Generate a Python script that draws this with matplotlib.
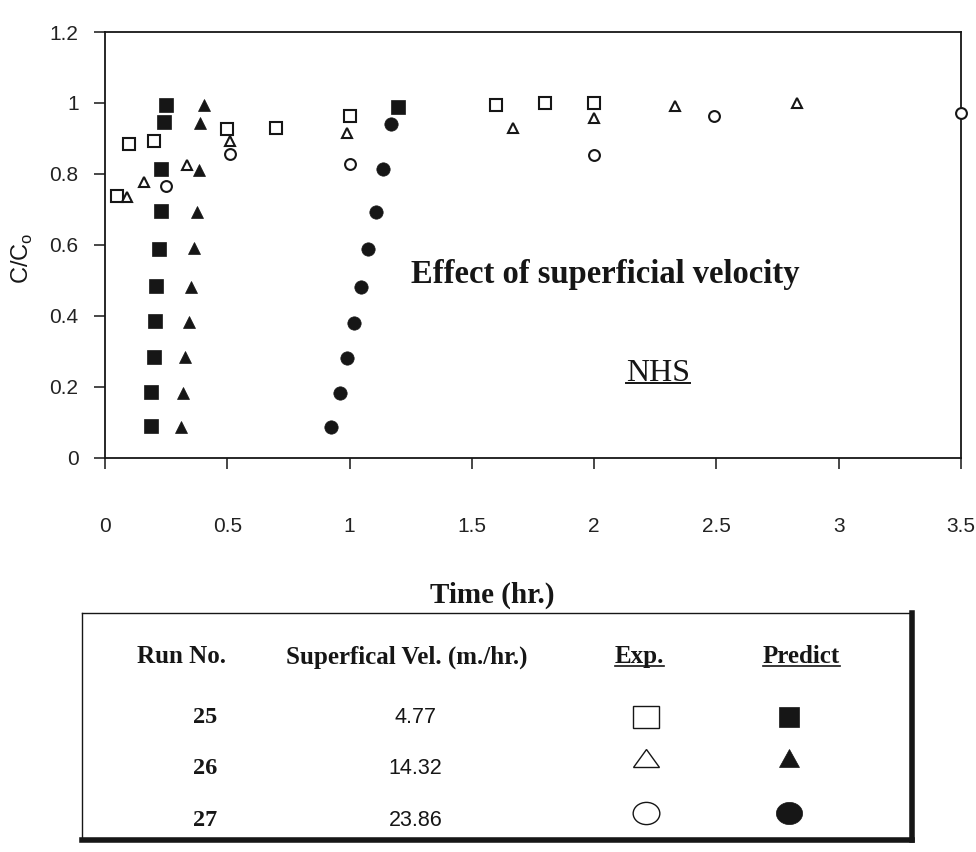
import numpy as np
import matplotlib
matplotlib.use('Agg')
import matplotlib.pyplot as plt
from matplotlib.lines import Line2D
from matplotlib.markers import MarkerStyle
from matplotlib.ticker import FuncFormatter
from matplotlib.transforms import Affine2D


# breakthrough curves, C/Co against time (hr.)
# run 25 (4.77 m/hr)
exp25_t = [0.05, 0.10, 0.20, 0.50, 0.70, 1.00, 1.60, 1.80, 2.00]
exp25_c = [0.738, 0.884, 0.894, 0.926, 0.929, 0.962, 0.995, 1.0, 1.0]
pred25_t = [0.19, 0.19, 0.20, 0.205, 0.21, 0.22, 0.23, 0.23, 0.24, 0.25, 1.20]
pred25_c = [0.09, 0.185, 0.284, 0.385, 0.483, 0.587, 0.694, 0.815, 0.945, 0.993, 0.989]

# run 26 (14.32 m/hr)
exp26_t = [0.09, 0.16, 0.335, 0.51, 0.99, 1.67, 2.00, 2.33, 2.83]
exp26_c = [0.734, 0.777, 0.826, 0.894, 0.915, 0.929, 0.957, 0.992, 0.999]
pred26_t = [0.309, 0.32, 0.329, 0.342, 0.352, 0.362, 0.378, 0.385, 0.39, 0.404]
pred26_c = [0.086, 0.181, 0.283, 0.383, 0.482, 0.59, 0.693, 0.811, 0.944, 0.994]

# run 27 (23.86 m/hr)
exp27_t = [0.25, 0.51, 1.00, 2.00, 2.49, 3.50]
exp27_c = [0.766, 0.857, 0.829, 0.854, 0.963, 0.972]
pred27_t = [0.926, 0.96, 0.988, 1.017, 1.045, 1.074, 1.107, 1.138, 1.168]
pred27_c = [0.087, 0.182, 0.28, 0.379, 0.481, 0.588, 0.692, 0.813, 0.941]

run_no = ['25', '26', '27']
sup_vel = ['4.77', '14.32', '23.86']

x_ticks = [0, 0.5, 1, 1.5, 2, 2.5, 3, 3.5]
y_ticks = [0, 0.2, 0.4, 0.6, 0.8, 1.0, 1.2]


ink = '#161616'
serif = 'Liberation Serif'
sans = 'Liberation Sans'

W, H = 976, 852
fig = plt.figure(figsize=(W/100, H/100), dpi=100)
fig.patch.set_facecolor('white')


def px_box(l, t, r, b):
    # pixel box (from the top left corner) -> figure fraction rect
    return [l/W, 1 - b/H, (r - l)/W, (b - t)/H]


def underline(txt, drop=2.5, lw=1.2):
    fig.canvas.draw()
    bb = txt.get_window_extent()
    ybase = txt.get_transform().transform(txt.get_position())[1] - drop
    inv = fig.transFigure.inverted()
    (fx0, fy), (fx1, _) = inv.transform([(bb.x0, ybase), (bb.x1, ybase)])
    fig.add_artist(Line2D([fx0, fx1], [fy, fy], transform=fig.transFigure,
                          color=ink, lw=lw))


# ---- main chart
axs = fig.add_axes(px_box(105, 32, 961, 457.5))

open_kw = dict(ls='none', mfc='white', mec=ink, mew=1.5, clip_on=False, zorder=3)
fill_kw = dict(ls='none', mfc=ink, mec=ink, mew=0.5, clip_on=False, zorder=3)

axs.plot(exp25_t, exp25_c, 's', ms=8.2, **open_kw)
axs.plot(exp26_t, exp26_c, '^', ms=7.8, **open_kw)
axs.plot(exp27_t, exp27_c, 'o', ms=7.8, **open_kw)
axs.plot(pred25_t, pred25_c, 's', ms=9.4, **fill_kw)
axs.plot(pred26_t, pred26_c, '^', ms=8.8, **fill_kw)
axs.plot(pred27_t, pred27_c, 'o', ms=9.6, **fill_kw)

axs.set_xlim(0, 3.5)
axs.set_ylim(0, 1.2)
axs.set_xticks(x_ticks)
axs.set_yticks(y_ticks)
fmt = FuncFormatter(lambda v, p: f'{v:g}')
axs.xaxis.set_major_formatter(fmt)
axs.yaxis.set_major_formatter(fmt)
axs.tick_params(direction='out', length=8, width=1.1, colors=ink,
                labelsize=15, labelcolor='#222222')
axs.tick_params(axis='x', pad=35)
axs.tick_params(axis='y', pad=11)
for lbl in axs.get_xticklabels() + axs.get_yticklabels():
    lbl.set_family(sans)
for sp in axs.spines.values():
    sp.set_color(ink)
    sp.set_linewidth(1.3)

axs.text(2.045, 0.493, 'Effect of superficial velocity', family=serif,
         weight='bold', size=23.5, ha='center', va='baseline', color=ink)
nhs = axs.text(2.26, 0.217, 'NHS', family=serif, size=23,
               ha='center', va='baseline', color=ink)

fig.text(22/W, 1 - 258/H, r'C/C$_\mathregular{o}$', rotation=90,
         family=sans, size=17, ha='center', va='center', color=ink)
fig.text(492/W, 1 - 603/H, 'Time (hr.)', family=serif, weight='bold',
         size=21, ha='center', va='baseline', color=ink)


# ---- run table below the chart
tab = fig.add_axes(px_box(82, 613, 912, 840))
tab.set_xlim(0, 1)
tab.set_ylim(0, 1)
tab.set_xticks([])
tab.set_yticks([])
for key, sp in tab.spines.items():
    sp.set_color(ink)
    sp.set_linewidth(1.0)
tab.spines['bottom'].set_linewidth(4.0)
tab.spines['right'].set_linewidth(4.0)

hdr_y = 0.778
row_base = [0.515, 0.29, 0.062]
row_mark = [0.542, 0.361, 0.119]
col_x = [0.12, 0.391, 0.672, 0.867]
val_x = [0.148, 0.402, 0.68, 0.852]

hdr = dict(family=serif, weight='bold', size=18, ha='center',
           va='baseline', color=ink)
tab.text(col_x[0], hdr_y, 'Run No.', **hdr)
tab.text(col_x[1], hdr_y, 'Superfical Vel. (m./hr.)', **hdr)
t_exp = tab.text(col_x[2], hdr_y, 'Exp.', **hdr)
t_pred = tab.text(col_x[3], hdr_y, 'Predict', **hdr)

for i in range(len(run_no)):
    tab.text(val_x[0], row_base[i], run_no[i], family=serif, weight='bold',
             size=17.5, ha='center', va='baseline', color=ink)
    tab.text(val_x[1], row_base[i], sup_vel[i], family=sans, size=15.5,
             ha='center', va='baseline', color=ink)

wide = lambda m, sx: MarkerStyle(m, transform=Affine2D().scale(sx, 1.0))
exp_marks = [wide('s', 1.18), wide('^', 1.4), wide('o', 1.2)]
pred_marks = [wide('s', 1.0), wide('^', 1.1), wide('o', 1.18)]
exp_ms = [15.5, 13.5, 16.0]
pred_ms = [15.0, 13.0, 16.0]

for i in range(len(run_no)):
    tab.plot([val_x[2]], [row_mark[i]], marker=exp_marks[i], ms=exp_ms[i],
             ls='none', mfc='white', mec=ink, mew=1.0)
    tab.plot([val_x[3]], [row_mark[i]], marker=pred_marks[i], ms=pred_ms[i],
             ls='none', mfc=ink, mec=ink, mew=0.5)

underline(nhs, drop=2.5, lw=1.4)
underline(t_exp, drop=2.5, lw=1.2)
underline(t_pred, drop=2.5, lw=1.2)

fig.savefig('out.png', dpi=100, facecolor='white')
